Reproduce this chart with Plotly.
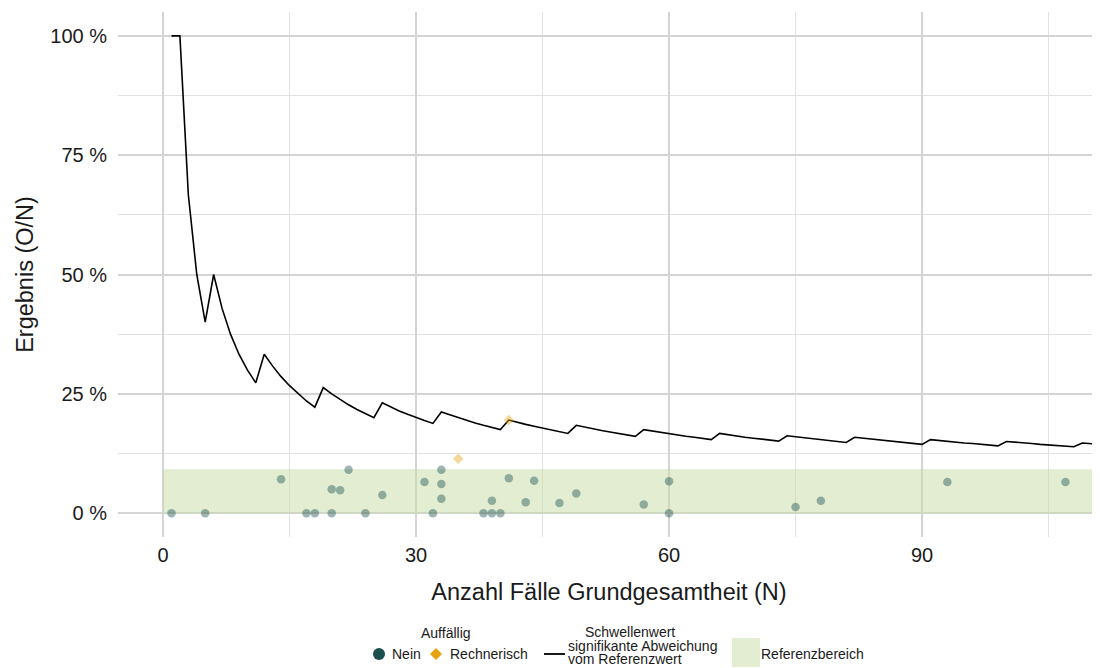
import plotly.graph_objects as go

# ─── Data ────────────────────────────────────────────────────────────
# Schwellenwert (signifikante Abweichung vom Referenzwert), in %, for N = 1..112
THRESH_N = list(range(1, 113))
THRESH_PCT = [
    100.0, 100.0, 66.7, 50.0, 40.0, 50.0, 42.9, 37.5, 33.3, 30.0,
    27.3, 33.3, 30.8, 28.6, 26.7, 25.0, 23.5, 22.2, 26.3, 25.0,
    23.8, 22.7, 21.7, 20.8, 20.0, 23.1, 22.2, 21.4, 20.7, 20.0,
    19.4, 18.8, 21.2, 20.6, 20.0, 19.4, 18.9, 18.4, 17.9, 17.5,
    19.5, 19.0, 18.6, 18.2, 17.8, 17.4, 17.0, 16.7, 18.4, 18.0,
    17.6, 17.3, 17.0, 16.7, 16.4, 16.1, 17.5, 17.2, 16.9, 16.7,
    16.4, 16.1, 15.9, 15.6, 15.4, 16.7, 16.4, 16.2, 15.9, 15.7,
    15.5, 15.3, 15.1, 16.2, 16.0, 15.8, 15.6, 15.4, 15.2, 15.0,
    14.8, 15.9, 15.7, 15.5, 15.3, 15.1, 14.9, 14.8, 14.6, 14.4,
    15.4, 15.2, 15.1, 14.9, 14.7, 14.6, 14.4, 14.3, 14.1, 15.0,
    14.9, 14.7, 14.6, 14.4, 14.3, 14.2, 14.0, 13.9, 14.7, 14.5,
    14.4, 14.3,
]

# Einrichtungen: Auffällig = Nein
NEIN_N = [1, 5, 14, 17, 18, 20, 20, 21, 22, 24, 26, 31, 32, 33, 33, 33,
          38, 39, 39, 40, 41, 43, 44, 47, 49, 57, 60, 60, 75, 78, 93, 107]
NEIN_PCT = [0.0, 0.0, 7.1, 0.0, 0.0, 5.0, 0.0, 4.8, 9.1, 0.0, 3.8, 6.5, 0.0, 9.1, 6.1, 3.0,
            0.0, 2.6, 0.0, 0.0, 7.3, 2.3, 6.8, 2.1, 4.1, 1.8, 6.7, 0.0, 1.3, 2.6, 6.5, 6.5]

# Einrichtungen: Auffällig = Rechnerisch
RECH_N = [35, 41]
RECH_PCT = [11.4, 19.5]

# Referenzbereich
REF_LOW = 0.0
REF_HIGH = 9.2
REF_X = [0, 115]

Y_TICKS = [0, 25, 50, 75, 100]
Y_LABELS = ["0 %", "25 %", "50 %", "75 %", "100 %"]
X_TICKS = [0, 30, 60, 90]

# ─── Style ───────────────────────────────────────────────────────────
FONT = "Liberation Sans, Arial, sans-serif"
INK = "#1a1a1a"
TEAL = "#1a4f4c"
ORANGE = "#e8a20c"
REF_FILL = "rgba(197,219,166,0.5)"
GRID_MAJOR = "#d4d4d4"
GRID_MINOR = "#e2e2e2"

# page has an 8px body margin; figure sized to fill the rest of the window
PAGE_OFF = 8
W, H = 1100 - PAGE_OFF, 668 - PAGE_OFF
ML, MT = 118 - PAGE_OFF, 12 - PAGE_OFF
MR, MB = 0, H - (537 - PAGE_OFF)
PW, PH = W - ML - MR, H - MT - MB


def px(x):
    """page pixel x -> paper"""
    return (x - PAGE_OFF - ML) / PW


def py(y):
    """page pixel y -> paper"""
    return (MT + PH - (y - PAGE_OFF)) / PH


fig = go.Figure()

fig.add_trace(go.Scatter(
    x=[REF_X[0], REF_X[1], REF_X[1], REF_X[0]],
    y=[REF_LOW, REF_LOW, REF_HIGH, REF_HIGH],
    fill="toself", fillcolor=REF_FILL, mode="none",
    showlegend=False, hoverinfo="skip",
))

fig.add_trace(go.Scatter(
    x=THRESH_N, y=THRESH_PCT, mode="lines",
    line=dict(color="black", width=1.6),
    showlegend=False,
    hovertemplate="N=%{x}: %{y:.1f} %<extra></extra>",
))

fig.add_trace(go.Scatter(
    x=NEIN_N, y=NEIN_PCT, mode="markers",
    marker=dict(size=8.5, color=TEAL, opacity=0.42, line=dict(width=0)),
    showlegend=False,
    hovertemplate="N=%{x}: %{y:.1f} %<extra>Nein</extra>",
))

fig.add_trace(go.Scatter(
    x=RECH_N, y=RECH_PCT, mode="markers",
    marker=dict(size=8, symbol="diamond", color=ORANGE, opacity=0.42, line=dict(width=0)),
    showlegend=False,
    hovertemplate="N=%{x}: %{y:.1f} %<extra>Rechnerisch</extra>",
))

# ─── Manual legend ───────────────────────────────────────────────────
shapes = []
annotations = []
LEG_FONT = dict(family=FONT, size=14, color=INK)


def text(x, y, s, anchor="left"):
    annotations.append(dict(
        x=px(x), y=py(y), xref="paper", yref="paper", text=s, showarrow=False,
        xanchor=anchor, yanchor="middle", font=LEG_FONT, borderpad=0,
    ))


text(446, 633, "Auffällig", "center")
shapes.append(dict(type="circle", xref="paper", yref="paper",
                   x0=px(373), x1=px(385), y0=py(648), y1=py(660),
                   fillcolor=TEAL, line_width=0))
text(391, 654, "Nein")
cx, cy, r = 436, 654, 6
shapes.append(dict(type="path", xref="paper", yref="paper",
                   path=f"M {px(cx)},{py(cy - r)} L {px(cx + r)},{py(cy)} "
                        f"L {px(cx)},{py(cy + r)} L {px(cx - r)},{py(cy)} Z",
                   fillcolor=ORANGE, line_width=0))
text(449, 654, "Rechnerisch")

text(630, 632, "Schwellenwert", "center")
shapes.append(dict(type="line", xref="paper", yref="paper",
                   x0=px(544), x1=px(565), y0=py(654), y1=py(654),
                   line=dict(color="black", width=1.8)))
text(567, 646, "signifikante Abweichung")
text(567, 659, "vom Referenzwert")

shapes.append(dict(type="rect", xref="paper", yref="paper",
                   x0=px(732), x1=px(760), y0=py(638), y1=py(667),
                   fillcolor=REF_FILL, line_width=0))
text(760, 654, "Referenzbereich")

fig.update_layout(
    width=W, height=H,
    margin=dict(l=ML, r=MR, t=MT, b=MB),
    paper_bgcolor="white", plot_bgcolor="white",
    font=dict(family=FONT, color=INK),
    showlegend=False,
    shapes=shapes,
    annotations=annotations,
    hovermode="closest",
    xaxis=dict(
        range=[-5.34, 111.1], tickmode="array", tickvals=X_TICKS,
        showgrid=True, gridcolor=GRID_MAJOR, gridwidth=1.6,
        minor=dict(dtick=15, tick0=0, showgrid=True, gridcolor=GRID_MINOR, gridwidth=1),
        zeroline=False, showline=False, ticks="",
        tickfont=dict(size=20, color=INK), ticklabelstandoff=4,
        title=dict(text="Anzahl Fälle Grundgesamtheit (N)", font=dict(size=23.5, color=INK),
                   standoff=18),
        automargin=False,
    ),
    yaxis=dict(
        range=[-5, 105], tickmode="array", tickvals=Y_TICKS, ticktext=Y_LABELS,
        showgrid=True, gridcolor=GRID_MAJOR, gridwidth=1.6,
        minor=dict(dtick=12.5, tick0=0, showgrid=True, gridcolor=GRID_MINOR, gridwidth=1),
        zeroline=False, showline=False, ticks="",
        tickfont=dict(size=20, color=INK), ticklabelstandoff=10,
        title=dict(text="Ergebnis (O/N)", font=dict(size=23.5, color=INK), standoff=10),
        automargin=False,
    ),
)

fig.write_html("out.html")
